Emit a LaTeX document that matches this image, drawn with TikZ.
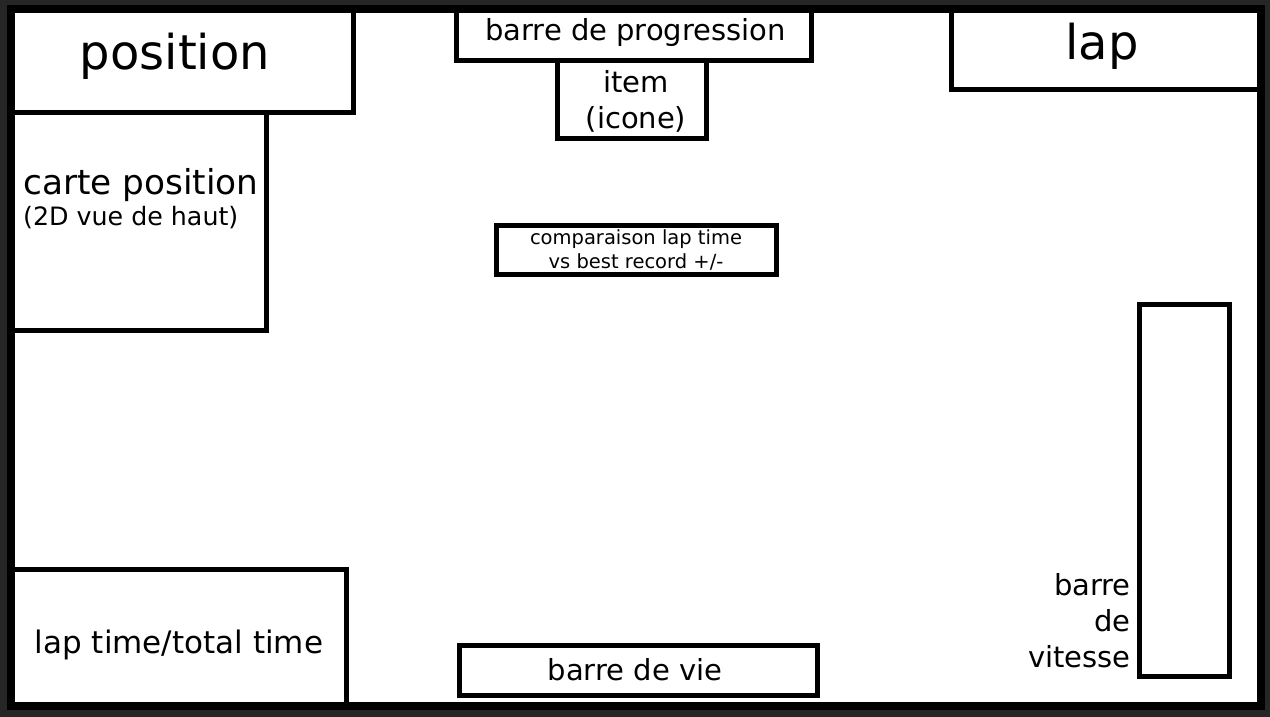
\documentclass[tikz,border=0pt]{standalone}
\usepackage{fontspec}
\setmainfont{DejaVu Sans}
\usepackage{xcolor}
\usepackage{tikz}
\definecolor{framegray}{HTML}{262626}
\definecolor{inkblack}{HTML}{000000}

\begin{document}
\begin{tikzpicture}[x=1pt, y=-1pt,
  box/.style={draw=inkblack, line width=5pt},
  txt/.style={inner sep=0pt, text=inkblack}]
  \useasboundingbox (0,0) rectangle (1270,717);
  % screen frame
  \fill[framegray] (0,0) rectangle (1270,717);
  \draw[inkblack, line width=8pt, fill=white] (11,9) rectangle (1260.5,706);
  % top left: position + map
  \draw[box] (12,9) rectangle (353.5,112.5);
  \node[txt, anchor=base, font=\fontsize{48}{58}\selectfont] (position) at (175,70) {position};
  \draw[box] (12,112.5) rectangle (266,330);
  \node[txt, anchor=base west, font=\fontsize{34.3}{40}\selectfont] (carte) at (23,194) {carte position};
  \node[txt, anchor=base west, font=\fontsize{25.3}{30}\selectfont] (vuehaut) at (23,225) {(2D vue de haut)};
  % top middle: progress bar + item
  \draw[box] (456,9) rectangle (811.5,60.5);
  \node[txt, anchor=base, font=\fontsize{29}{36}\selectfont] (progression) at (635.5,41) {barre de progression};
  \draw[box] (557,60.5) rectangle (706,138.5);
  \node[txt, align=center, font=\fontsize{29}{36}\selectfont] (item) at (636,101.5) {item\\(icone)};
  % top right: lap
  \draw[box] (951,9) rectangle (1260,90);
  \node[txt, anchor=base, font=\fontsize{48}{58}\selectfont] (lap) at (1102,60) {lap};
  % centre: lap time comparison
  \draw[box] (496,225) rectangle (776,274);
  \node[txt, align=center, font=\fontsize{19.5}{24}\selectfont] (comparaison) at (636,249.5) {comparaison lap time\\vs best record +/-};
  % right: speed bar
  \draw[box] (1139,304) rectangle (1229,676.5);
  \node[txt, align=right, anchor=east, font=\fontsize{29}{36}\selectfont] (vitesse) at (1131,621) {barre\\de\\vitesse};
  % bottom: times + life bar
  \draw[box] (12,569) rectangle (346,706);
  \node[txt, anchor=base, font=\fontsize{31}{38}\selectfont] (laptime) at (179,653.5) {lap time/total time};
  \draw[box] (459,645) rectangle (817,695);
  \node[txt, anchor=base, font=\fontsize{29}{36}\selectfont] (vie) at (635,680) {barre de vie};
\end{tikzpicture}
\end{document}
